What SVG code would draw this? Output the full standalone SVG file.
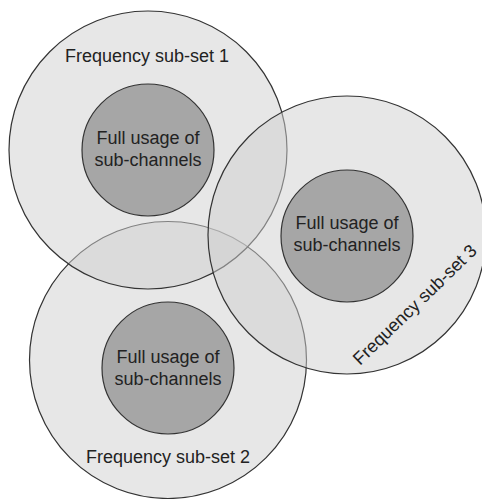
<svg xmlns="http://www.w3.org/2000/svg" width="482" height="499" viewBox="0 0 482 499">
<style>
.outer{fill:#d0d0d0;fill-opacity:0.5;stroke:#333;stroke-width:1.2}
.inner{fill:#a6a6a6;stroke:#333;stroke-width:1.2}
text{font-family:"Liberation Sans",Arial,sans-serif;font-size:18px;fill:#222;text-anchor:middle}
</style>
<rect width="482" height="499" fill="#fff"/>
<g id="set2">
<circle class="outer" cx="168" cy="360" r="138.5"/>
<circle class="inner" cx="168" cy="368" r="66"/>
<text x="168" y="363">Full usage of</text>
<text x="168" y="385">sub-channels</text>
<text x="168" y="463">Frequency sub-set 2</text>
</g>
<g id="set1">
<circle class="outer" cx="148" cy="150" r="139"/>
<circle class="inner" cx="148" cy="150" r="66"/>
<text x="148" y="144">Full usage of</text>
<text x="148" y="166">sub-channels</text>
<text x="147" y="62">Frequency sub-set 1</text>
</g>
<g id="set3">
<circle class="outer" cx="347" cy="235" r="139"/>
<circle class="inner" cx="347" cy="236" r="66"/>
<text x="347" y="229">Full usage of</text>
<text x="347" y="251">sub-channels</text>
<text transform="translate(419 309) rotate(-44)">Frequency sub-set 3</text>
</g>
<g id="connectors"/>
</svg>
